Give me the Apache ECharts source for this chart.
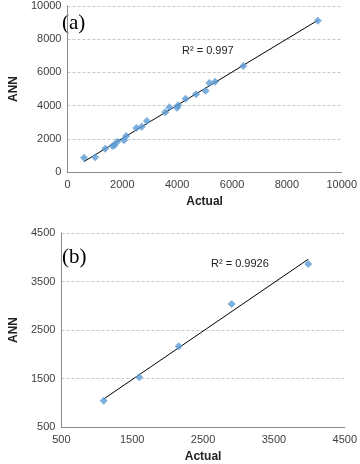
<!DOCTYPE html>
<html><head><meta charset="utf-8">
<script src="https://cdn.jsdelivr.net/npm/echarts@6/dist/echarts.min.js"></script>
<style>html,body{margin:0;padding:0;background:#fff}#c{width:360px;height:464px}</style>
</head><body><div id="c"></div>
<script>
const actualA = [602,1007,1377,1644,1713,1817,2060,2141,2512,2708,2894,3565,3715,3993,4039,4306,4688,5035,5174,5382,6412,9132];
const annA    = [863,884,1406,1566,1606,1827,1908,2169,2651,2731,3072,3594,3896,3876,4016,4418,4679,4900,5361,5442,6386,9116];
const actualB = [1097,1599,2156,2904,3985];
const annB    = [1043,1524,2163,3036,3861];
const r2A = 'R² = 0.997';
const r2B = 'R² = 0.9926';

function fit(xs, ys){
  const n=xs.length; let sx=0,sy=0,sxx=0,sxy=0;
  for(let i=0;i<n;i++){sx+=xs[i];sy+=ys[i];sxx+=xs[i]*xs[i];sxy+=xs[i]*ys[i];}
  const b=(n*sxy-sx*sy)/(n*sxx-sx*sx), a=(sy-b*sx)/n;
  const x0=Math.min(...xs), x1=Math.max(...xs);
  return [[x0,a+b*x0],[x1,a+b*x1]];
}
const font = 'Liberation Sans, Arial, sans-serif';
const lbl = {color:'#404040', fontSize:11, fontFamily:font, formatter:v=>String(v)};
const gridLine = {show:true, lineStyle:{color:'#c8c8c8', type:[3,2], width:1}};
const axLine = {show:true, lineStyle:{color:'#8a8a8a', width:1}};
function xa(gi,min,max,iv){return {gridIndex:gi,type:'value',min:min,max:max,interval:iv,
  axisLine:axLine,axisTick:{show:false},splitLine:{show:false},axisLabel:Object.assign({margin:7},lbl),
  name:'Actual',nameLocation:'middle',nameGap:24,nameTextStyle:{fontWeight:'bold',fontSize:12,color:'#222',fontFamily:font}};}
function ya(gi,min,max,iv,gap){return {gridIndex:gi,type:'value',min:min,max:max,interval:iv,
  axisLine:axLine,axisTick:{show:false},splitLine:gridLine,axisLabel:Object.assign({margin:6},lbl),
  name:'ANN',nameLocation:'middle',nameGap:gap,nameTextStyle:{fontWeight:'bold',fontSize:12,color:'#222',fontFamily:font}};}
const ptStyle = {color:'#5b9bd5'};
const chart = echarts.init(document.getElementById('c'), null, {renderer:'canvas'});
chart.setOption({
  animation:false,
  grid:[{left:56,right:16,top:6,height:166},{left:56,right:11,top:233,height:194}],
  xAxis:[xa(0,0,10000,2000), xa(1,500,4500,1000)],
  yAxis:[ya(0,0,10000,2000,40), ya(1,500,4500,1000,34)],
  series:[
    {type:'line',xAxisIndex:0,yAxisIndex:0,data:fit(actualA,annA),symbol:'none',lineStyle:{color:'#000',width:1},z:1},
    {type:'scatter',xAxisIndex:0,yAxisIndex:0,data:actualA.map((x,i)=>[x,annA[i]]),symbol:'diamond',symbolSize:8,itemStyle:ptStyle,z:2},
    {type:'line',xAxisIndex:1,yAxisIndex:1,data:fit(actualB,annB),symbol:'none',lineStyle:{color:'#000',width:1},z:1},
    {type:'scatter',xAxisIndex:1,yAxisIndex:1,data:actualB.map((x,i)=>[x,annB[i]]),symbol:'diamond',symbolSize:8,itemStyle:ptStyle,z:2}
  ],
  graphic:[
    {type:'text',left:62,top:13,style:{text:'(a)',font:'21px "Liberation Serif", serif',fill:'#000'}},
    {type:'text',left:182,top:45,style:{text:r2A,font:'11px '+font,fill:'#222'}},
    {type:'text',left:62,top:247,style:{text:'(b)',font:'21px "Liberation Serif", serif',fill:'#000'}},
    {type:'text',left:211,top:258,style:{text:r2B,font:'11px '+font,fill:'#222'}}
  ]
});
</script></body></html>
